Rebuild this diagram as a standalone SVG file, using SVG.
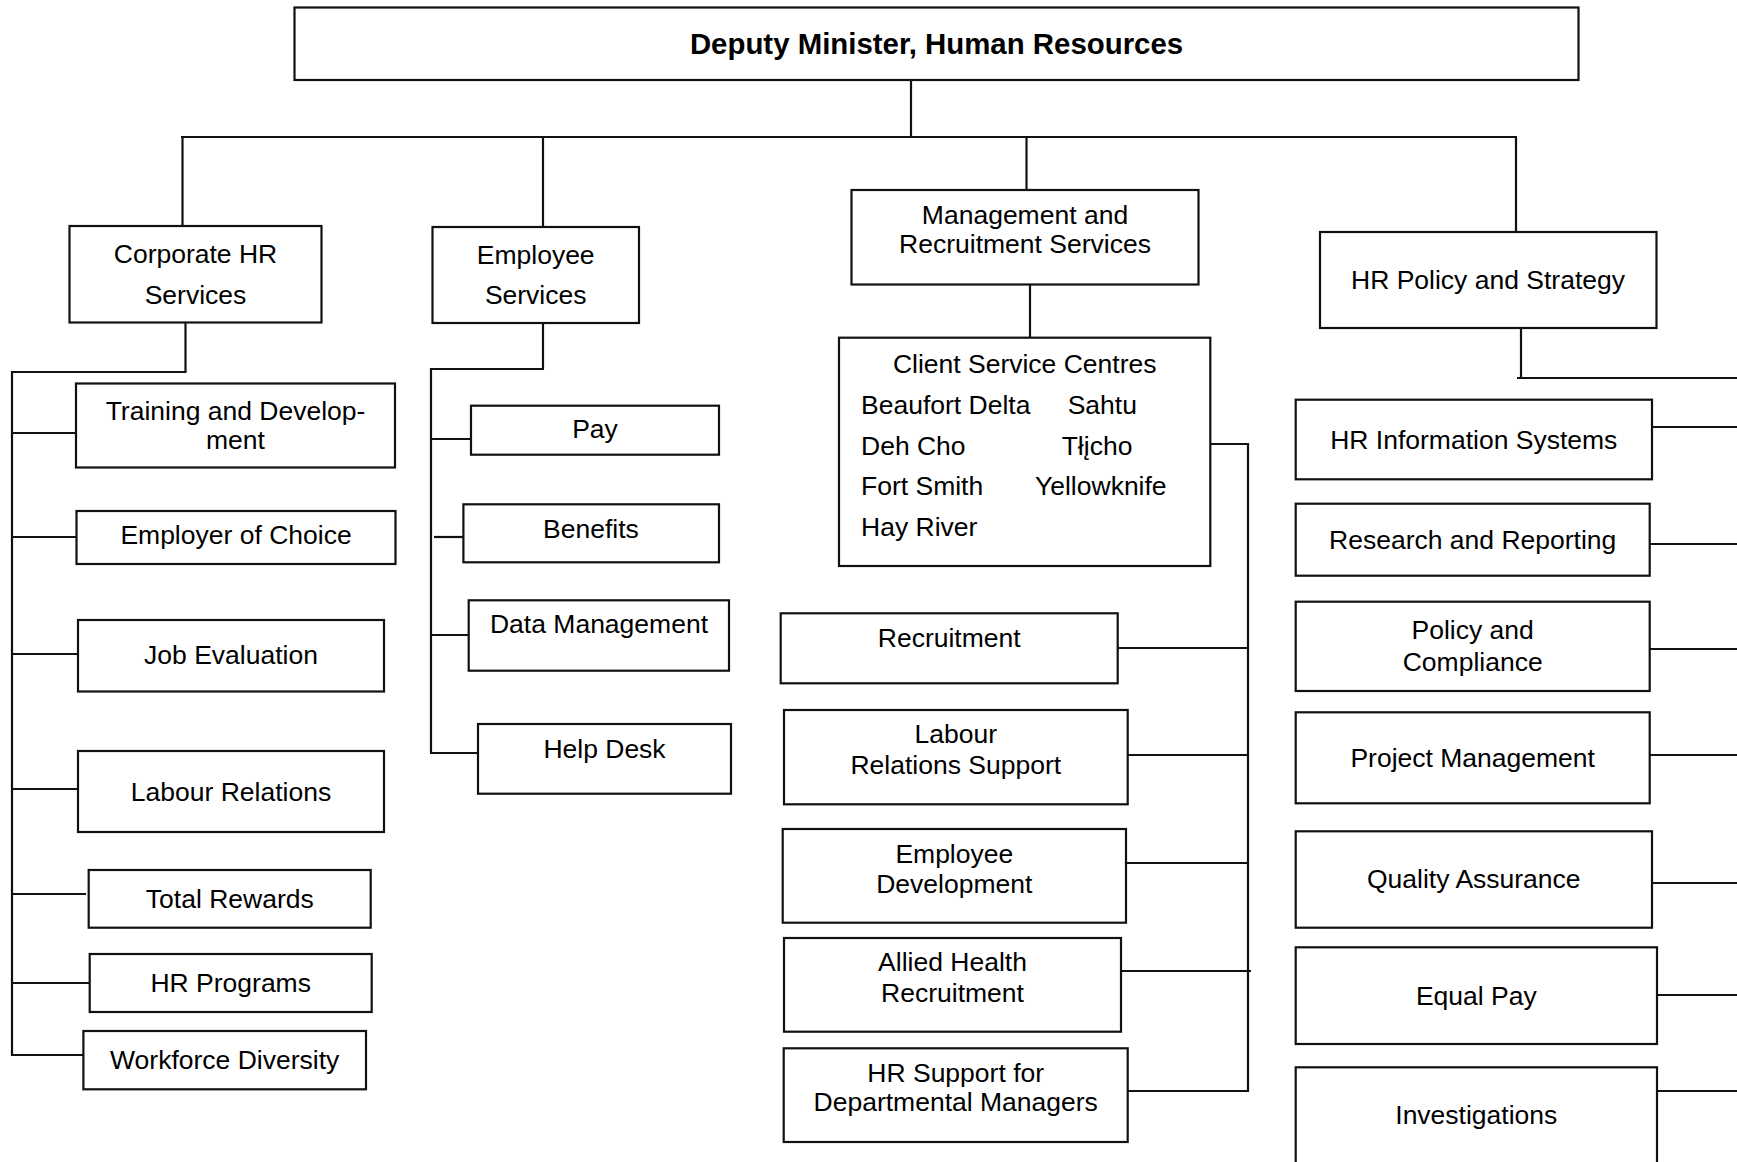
<svg xmlns="http://www.w3.org/2000/svg" width="1737" height="1162" viewBox="0 0 1737 1162">
<style>
.box{fill:#fff;stroke:#111;stroke-width:2.2}
.t{font-family:"Liberation Sans",Arial,sans-serif;font-size:26.5px;fill:#000;text-anchor:middle}
.l{text-anchor:start}
.b{font-weight:bold;font-size:29.4px}
.c line{stroke:#111;stroke-width:2.2}
</style>
<rect width="1737" height="1162" fill="#fff"/>
<g class="c" id="connectors">
<line x1="911" y1="80" x2="911" y2="137"/>
<line x1="181" y1="137" x2="1517" y2="137"/>
<line x1="182.5" y1="137" x2="182.5" y2="226"/>
<line x1="543" y1="137" x2="543" y2="227"/>
<line x1="1026.5" y1="137" x2="1026.5" y2="190"/>
<line x1="1516" y1="137" x2="1516" y2="232"/>
<line x1="185.5" y1="322" x2="185.5" y2="372"/>
<line x1="11" y1="372" x2="186.5" y2="372"/>
<line x1="12" y1="371" x2="12" y2="1056"/>
<line x1="12" y1="433" x2="76" y2="433"/>
<line x1="12" y1="537" x2="77" y2="537"/>
<line x1="12" y1="654" x2="78" y2="654"/>
<line x1="12" y1="789" x2="78" y2="789"/>
<line x1="12" y1="894" x2="86" y2="894"/>
<line x1="12" y1="983" x2="96" y2="983"/>
<line x1="12" y1="1055" x2="83" y2="1055"/>
<line x1="543" y1="323" x2="543" y2="369"/>
<line x1="430" y1="369" x2="544" y2="369"/>
<line x1="431" y1="368" x2="431" y2="754"/>
<line x1="431" y1="439" x2="471" y2="439"/>
<line x1="434" y1="537" x2="463" y2="537"/>
<line x1="431" y1="635" x2="469" y2="635"/>
<line x1="431" y1="753" x2="481" y2="753"/>
<line x1="1030" y1="284" x2="1030" y2="338"/>
<line x1="1210" y1="444" x2="1249" y2="444"/>
<line x1="1248" y1="443" x2="1248" y2="1092"/>
<line x1="1116" y1="648" x2="1248" y2="648"/>
<line x1="1128" y1="755" x2="1248" y2="755"/>
<line x1="1126" y1="863" x2="1248" y2="863"/>
<line x1="1118" y1="971" x2="1251" y2="971"/>
<line x1="1128" y1="1091" x2="1249" y2="1091"/>
<line x1="1521" y1="328" x2="1521" y2="378"/>
<line x1="1517" y1="378" x2="1737" y2="378"/>
<line x1="1652" y1="427" x2="1737" y2="427"/>
<line x1="1650" y1="544" x2="1737" y2="544"/>
<line x1="1650" y1="649" x2="1737" y2="649"/>
<line x1="1650" y1="755" x2="1737" y2="755"/>
<line x1="1652" y1="883" x2="1737" y2="883"/>
<line x1="1655" y1="995" x2="1737" y2="995"/>
<line x1="1655" y1="1091" x2="1737" y2="1091"/>
</g>
<g id="deputy-minister"><rect class="box" x="294.5" y="7.5" width="1284" height="72.5"/><text class="t b" x="936.5" y="53.5">Deputy Minister, Human Resources</text></g>
<g id="corporate-hr"><rect class="box" x="69.5" y="226" width="252" height="96.5"/><text class="t" x="195.5" y="263">Corporate HR</text><text class="t" x="195.5" y="304">Services</text></g>
<g id="employee-services"><rect class="box" x="432.5" y="227" width="206.5" height="96"/><text class="t" x="535.7" y="264">Employee</text><text class="t" x="535.7" y="304">Services</text></g>
<g id="management-recruitment"><rect class="box" x="851.5" y="190" width="347" height="94.5"/><text class="t" x="1025" y="224">Management and</text><text class="t" x="1025" y="253">Recruitment Services</text></g>
<g id="hr-policy"><rect class="box" x="1320" y="232" width="336.5" height="96"/><text class="t" x="1488" y="288.7">HR Policy and Strategy</text></g>
<g id="training"><rect class="box" x="76" y="383.5" width="319" height="84"/><text class="t" x="235.5" y="420">Training and Develop-</text><text class="t" x="235.5" y="449">ment</text></g>
<g id="employer-choice"><rect class="box" x="76.5" y="511" width="319" height="53"/><text class="t" x="236" y="544.3">Employer of Choice</text></g>
<g id="job-evaluation"><rect class="box" x="78" y="620" width="306" height="71.5"/><text class="t" x="231" y="664.3">Job Evaluation</text></g>
<g id="labour-relations"><rect class="box" x="78" y="751" width="306" height="81"/><text class="t" x="231" y="800.7">Labour Relations</text></g>
<g id="total-rewards"><rect class="box" x="88.7" y="870" width="282" height="57.7"/><text class="t" x="229.8" y="908.3">Total Rewards</text></g>
<g id="hr-programs"><rect class="box" x="89.7" y="954" width="282" height="58"/><text class="t" x="230.7" y="992.3">HR Programs</text></g>
<g id="workforce-diversity"><rect class="box" x="83.4" y="1031" width="282.6" height="58.3"/><text class="t" x="224.7" y="1069.3">Workforce Diversity</text></g>
<g id="pay"><rect class="box" x="471" y="405.7" width="248" height="49"/><text class="t" x="595" y="438.3">Pay</text></g>
<g id="benefits"><rect class="box" x="463.4" y="504.3" width="255.6" height="58"/><text class="t" x="591" y="537.7">Benefits</text></g>
<g id="data-management"><rect class="box" x="468.7" y="600.3" width="260.3" height="70.4"/><text class="t" x="599" y="633.3">Data Management</text></g>
<g id="help-desk"><rect class="box" x="478" y="724" width="253" height="69.7"/><text class="t" x="604.5" y="758.3">Help Desk</text></g>
<g id="client-service-centres"><rect class="box" x="839" y="337.7" width="371.3" height="228.3"/>
<text class="t" x="1024.7" y="372.7">Client Service Centres</text>
<text class="t l" x="861" y="414">Beaufort Delta</text><text class="t l" x="1067.7" y="414">Sahtu</text>
<text class="t l" x="861" y="455">Deh Cho</text><text class="t l" x="1061.7" y="455">Tłįcho</text>
<text class="t l" x="861" y="494.7">Fort Smith</text><text class="t l" x="1035" y="494.7">Yellowknife</text>
<text class="t l" x="861" y="535.7">Hay River</text></g>
<g id="recruitment"><rect class="box" x="780.7" y="613.3" width="337" height="70"/><text class="t" x="949.2" y="646.7">Recruitment</text></g>
<g id="labour-relations-support"><rect class="box" x="784" y="710" width="343.7" height="94.3"/><text class="t" x="955.8" y="743.3">Labour</text><text class="t" x="955.8" y="774">Relations Support</text></g>
<g id="employee-development"><rect class="box" x="782.7" y="829" width="343.3" height="93.7"/><text class="t" x="954.3" y="862.7">Employee</text><text class="t" x="954.3" y="892.7">Development</text></g>
<g id="allied-health"><rect class="box" x="784" y="938" width="337" height="93.7"/><text class="t" x="952.5" y="970.7">Allied Health</text><text class="t" x="952.5" y="1001.7">Recruitment</text></g>
<g id="hr-support-managers"><rect class="box" x="783.7" y="1048.3" width="344" height="93.7"/><text class="t" x="955.7" y="1081.7">HR Support for</text><text class="t" x="955.7" y="1111">Departmental Managers</text></g>
<g id="hr-information-systems"><rect class="box" x="1295.7" y="399.7" width="356.3" height="79.6"/><text class="t" x="1473.8" y="448.7">HR Information Systems</text></g>
<g id="research-reporting"><rect class="box" x="1295.7" y="503.7" width="354" height="72"/><text class="t" x="1472.7" y="548.7">Research and Reporting</text></g>
<g id="policy-compliance"><rect class="box" x="1295.7" y="601.7" width="354" height="89.3"/><text class="t" x="1472.7" y="639.3">Policy and</text><text class="t" x="1472.7" y="670.7">Compliance</text></g>
<g id="project-management"><rect class="box" x="1295.7" y="712.3" width="354" height="91"/><text class="t" x="1472.7" y="766.7">Project Management</text></g>
<g id="quality-assurance"><rect class="box" x="1295.7" y="831.3" width="356.3" height="96.4"/><text class="t" x="1473.8" y="888.3">Quality Assurance</text></g>
<g id="equal-pay"><rect class="box" x="1295.7" y="947.3" width="361.3" height="96.7"/><text class="t" x="1476.3" y="1005">Equal Pay</text></g>
<g id="investigations"><rect class="box" x="1295.7" y="1067.3" width="361.3" height="120"/><text class="t" x="1476.3" y="1124">Investigations</text></g>
</svg>
